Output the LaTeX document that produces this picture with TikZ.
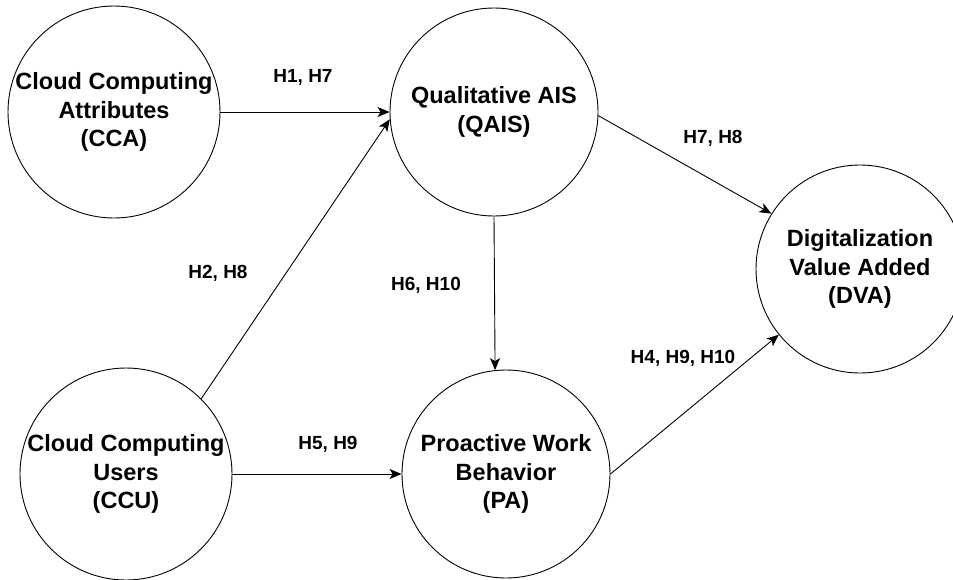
\documentclass[tikz,border=0pt]{standalone}
\usepackage{fontspec}
\setmainfont{Liberation Sans}
\usetikzlibrary{arrows.meta}

\begin{document}
\begin{tikzpicture}[
    x=1pt, y=-1pt,
    every node/.style={font=\bfseries\fontsize{23.5}{28.5}\selectfont, align=center},
    construct/.style={circle, draw, line width=0.9pt, minimum size=208pt, inner sep=0pt},
    hyp/.style={font=\bfseries\fontsize{19}{23}\selectfont},
    link/.style={draw, line width=0.9pt, -{Stealth[length=12pt, width=10pt, inset=3pt]}}
]
\useasboundingbox (0,0) rectangle (953,579);

% Konstrukte
\node[construct] (cca) at (114,112) {Cloud Computing\\Attributes\\(CCA)};
\node[construct] (qais) at (494,112) {Qualitative AIS\\(QAIS)};
\node[construct] (dva) at (860,269) {Digitalization\\Value Added\\(DVA)};
\node[construct] (ccu) at (126,474) {Cloud Computing\\Users\\(CCU)};
\node[construct] (pa) at (506,474) {Proactive Work\\Behavior\\(PA)};

% Hypothesen
\draw[link] (cca.east) -- (qais.west);
\draw[link] (ccu.45) -- (qais.184);
\draw[link] (qais.south) -- (pa.96.6);
\draw[link] (qais.-2) -- (dva.148);
\draw[link] (ccu.east) -- (pa.west);
\draw[link] (pa.east) -- (dva.219);

\node[hyp] (h17) at (303,77) {H1, H7};
\node[hyp] (h28) at (218,273) {H2, H8};
\node[hyp] (h610) at (426,285) {H6, H10};
\node[hyp] (h78) at (713,138) {H7, H8};
\node[hyp] (h59) at (328,444) {H5, H9};
\node[hyp] (h4910) at (683,358) {H4, H9, H10};

\end{tikzpicture}
\end{document}
